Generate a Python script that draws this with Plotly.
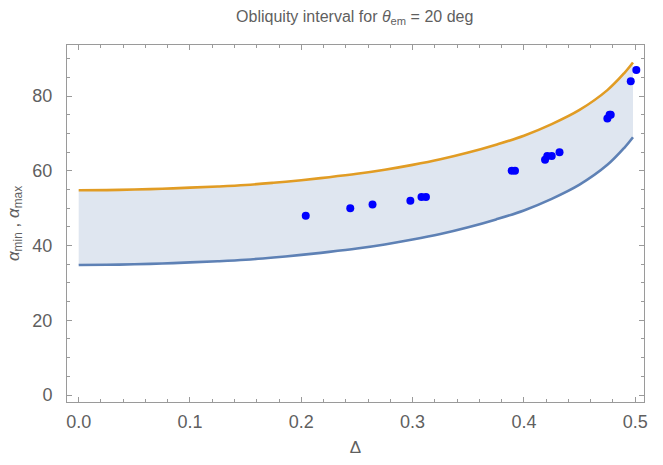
import plotly.graph_objects as go

# Curve readings (Delta, alpha_min, alpha_max)
delta = [0.000, 0.025, 0.050, 0.075, 0.100, 0.125, 0.150, 0.175, 0.200, 0.225, 0.250,
         0.275, 0.300, 0.325, 0.350, 0.375, 0.400, 0.425, 0.450, 0.475, 0.490, 0.498]
alpha_max = [54.8, 54.85, 55.0, 55.2, 55.5, 55.8, 56.2, 56.8, 57.5, 58.3, 59.2,
             60.3, 61.6, 63.1, 64.9, 67.0, 69.4, 72.5, 76.3, 81.6, 86.1, 89.0]
alpha_min = [34.8, 34.85, 35.0, 35.2, 35.5, 35.8, 36.2, 36.8, 37.5, 38.3, 39.2,
             40.3, 41.6, 43.1, 44.9, 47.0, 49.4, 52.5, 56.3, 61.6, 66.1, 69.0]

# Data points
pts_delta = [0.204, 0.244, 0.264, 0.298, 0.308, 0.312, 0.389, 0.392, 0.419, 0.421, 0.425, 0.432,
             0.475, 0.477, 0.478, 0.496, 0.501]
pts_alpha = [48, 50, 51, 52, 53, 53, 60, 60, 63, 64, 64, 65, 74, 75, 75, 84, 87]

xticks = [0.0, 0.1, 0.2, 0.3, 0.4, 0.5]
xticklabels = ["0.0", "0.1", "0.2", "0.3", "0.4", "0.5"]
yticks = [0, 20, 40, 60, 80]

XR = [-0.0105, 0.5079]
YR = [-1.87, 93.68]
FONT = "Liberation Sans"
TXT = "#5F5F5F"
FRAME = "#9A9A9A"

fig = go.Figure()
fig.add_trace(go.Scatter(x=delta, y=alpha_min, mode="lines",
                         line=dict(color="#5E81B5", width=2.6, shape="spline", smoothing=1.0),
                         hoverinfo="skip", showlegend=False))
fig.add_trace(go.Scatter(x=delta, y=alpha_max, mode="lines",
                         line=dict(color="#E19C24", width=2.6, shape="spline", smoothing=1.0),
                         fill="tonexty", fillcolor="rgba(94,129,181,0.2)", showlegend=False))
fig.add_trace(go.Scatter(x=pts_delta, y=pts_alpha, mode="markers",
                         marker=dict(color="#0000FF", size=8, line=dict(width=0)), showlegend=False))
# invisible trace to activate mirror axes
fig.add_trace(go.Scatter(x=[None], y=[None], xaxis="x2", yaxis="y2", showlegend=False, hoverinfo="skip"))

axcommon = dict(showgrid=False, zeroline=False, showline=True, linecolor=FRAME, linewidth=1,
                ticks="inside", ticklen=5, tickcolor=FRAME, tickwidth=1)
tf = dict(family=FONT, size=18, color=TXT)

fig.update_layout(
    xaxis=dict(range=XR, tickvals=xticks, ticktext=xticklabels, tickfont=tf,
               minor=dict(dtick=0.02, ticks="inside", ticklen=3, tickcolor=FRAME, showgrid=False),
               title=dict(text="Δ", font=dict(family=FONT, size=17, color=TXT), standoff=10),
               ticklabelstandoff=3,
               **axcommon),
    yaxis=dict(range=YR, tickvals=yticks, tickfont=tf,
               minor=dict(dtick=5, ticks="inside", ticklen=3, tickcolor=FRAME, showgrid=False),
               title=dict(text="<i>α</i><sub>min</sub> , <i>α</i><sub>max</sub>",
                          font=dict(family=FONT, size=17, color=TXT), standoff=8),
               ticklabelstandoff=10,
               **axcommon),
    xaxis2=dict(range=XR, overlaying="x", side="top", anchor="y", tickvals=xticks, showticklabels=False,
                minor=dict(dtick=0.02, ticks="inside", ticklen=3, tickcolor=FRAME, showgrid=False),
                **axcommon),
    yaxis2=dict(range=YR, overlaying="y", side="right", anchor="x", tickvals=yticks, showticklabels=False,
                minor=dict(dtick=5, ticks="inside", ticklen=3, tickcolor=FRAME, showgrid=False),
                **axcommon),
    width=663, height=465,
    margin=dict(l=65, r=19, t=45, b=62),
    paper_bgcolor="white", plot_bgcolor="white",
    title=dict(text="Obliquity interval for <i>θ</i><sub>em</sub> = 20 deg", x=0.535, xanchor="center",
               y=0.965, yanchor="middle",
               font=dict(family=FONT, size=16, color=TXT)),
)

fig.write_html("out.html")
